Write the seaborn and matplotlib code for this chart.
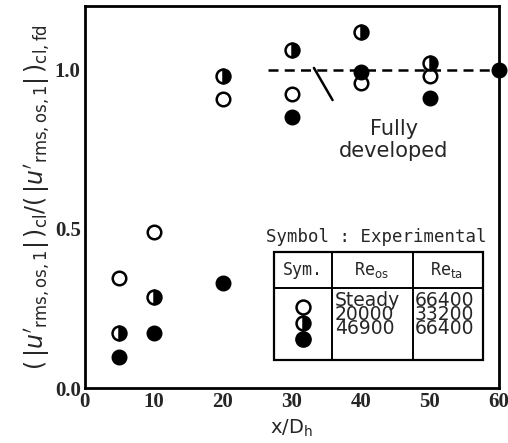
import matplotlib
matplotlib.use("Agg")
import matplotlib.pyplot as plt
from matplotlib.patches import Rectangle
import seaborn as sns
import pandas as pd

# data
x_pos = [5, 10, 20, 30, 40, 50]
steady = [0.346, 0.49, 0.909, 0.925, 0.96, 0.98]
re_20000 = [0.173, 0.286, 0.98, 1.063, 1.12, 1.02]
x_46900 = [5, 10, 20, 30, 40, 50, 60]
re_46900 = [0.097, 0.173, 0.33, 0.852, 0.994, 0.912, 1.0]

x_ticks = [0, 10, 20, 30, 40, 50, 60]
y_ticks = [0.0, 0.5, 1.0]

re_os_col = ["Steady", "20000", "46900"]
re_ta_col = ["66400", "33200", "66400"]

sns.set_style("white")
plt.rcParams["font.family"] = ["DejaVu Sans"]
plt.rcParams["mathtext.fontset"] = "dejavusans"

fig = plt.figure(figsize=(5.08, 4.43), dpi=100)
ax = fig.add_axes([0.167, 0.124, 0.815, 0.862])

df_open = pd.DataFrame({"x": x_pos, "y": steady})
df_full = pd.DataFrame({"x": x_46900, "y": re_46900})

sns.scatterplot(data=df_open, x="x", y="y", ax=ax, s=95, facecolor="white",
                edgecolor="black", linewidth=1.8, clip_on=False, zorder=5)
ax.plot(x_pos, re_20000, "o", ms=10, fillstyle="right", markerfacecolor="black",
        markerfacecoloralt="white", markeredgecolor="black", mew=1.8,
        clip_on=False, zorder=5)
sns.scatterplot(data=df_full, x="x", y="y", ax=ax, s=110, color="black",
                edgecolor="black", linewidth=1.0, clip_on=False, zorder=5)

# fully developed level
ax.plot([26.5, 60], [1.0, 1.0], color="black", lw=1.8, ls=(0, (4, 2.5)), zorder=3)
ax.plot([33.2, 35.9], [1.006, 0.905], color="black", lw=1.8)
ax.text(44.8, 0.78, "Fully\ndeveloped", ha="center", va="center", fontsize=15,
        linespacing=1.15)

# symbol table
mono = ["DejaVu Sans Mono"]
ax.text(42.3, 0.474, "Symbol : Experimental", ha="center", va="center",
        fontsize=12.5, family=mono)
ax.add_patch(Rectangle((27.4, 0.088), 30.3, 0.34, fill=False, lw=1.6,
                       edgecolor="black", zorder=4))
ax.plot([27.4, 57.7], [0.314, 0.314], color="black", lw=1.4)
ax.plot([35.8, 35.8], [0.088, 0.428], color="black", lw=1.4)
ax.plot([47.5, 47.5], [0.088, 0.428], color="black", lw=1.4)
ax.text(31.6, 0.371, "Sym.", ha="center", va="center", fontsize=12, family=mono)
ax.text(41.6, 0.371, r"Re$_{\rm os}$", ha="center", va="center", fontsize=12, family=mono)
ax.text(52.4, 0.371, r"Re$_{\rm ta}$", ha="center", va="center", fontsize=12, family=mono)
ax.plot([31.6], [0.255], "o", ms=10, mfc="white", mec="black", mew=1.8, zorder=6)
ax.plot([31.6], [0.206], "o", ms=10, fillstyle="right", mfc="black", mfcalt="white",
        mec="black", mew=1.8, zorder=7)
ax.plot([31.6], [0.155], "o", ms=11, mfc="black", mec="black", zorder=8)
ax.text(36.2, 0.232, "\n".join(re_os_col), ha="left", va="center", fontsize=13.5,
        linespacing=0.68)
ax.text(47.8, 0.232, "\n".join(re_ta_col), ha="left", va="center", fontsize=13.5,
        linespacing=0.68)

ax.set_xlim(0, 60)
ax.set_ylim(0, 1.2)
ax.set_xticks(x_ticks)
ax.set_xticks([5], minor=True)
ax.set_yticks(y_ticks)
ax.set_yticklabels(["0.0", "0.5", "1.0"])
ax.tick_params(direction="in", length=6, width=1.6, labelsize=15, pad=3)
ax.tick_params(which="minor", direction="in", length=6, width=1.6)
for lab in ax.get_xticklabels() + ax.get_yticklabels():
    lab.set_family(["Liberation Serif"])
    lab.set_fontweight("bold")

for sp in ax.spines.values():
    sp.set_linewidth(2)
    sp.set_color("black")

ax.set_xlabel(r"x/D$_{\rm h}$", fontsize=14, labelpad=4)
ax.set_ylabel(r"$(\,|u'_{\rm rms,os,1}|\,)_{\rm cl}/(\,|u'_{\rm rms,os,1}|\,)_{\rm cl,fd}$",
              fontsize=17, labelpad=2)

fig.savefig("out.png", dpi=100)
